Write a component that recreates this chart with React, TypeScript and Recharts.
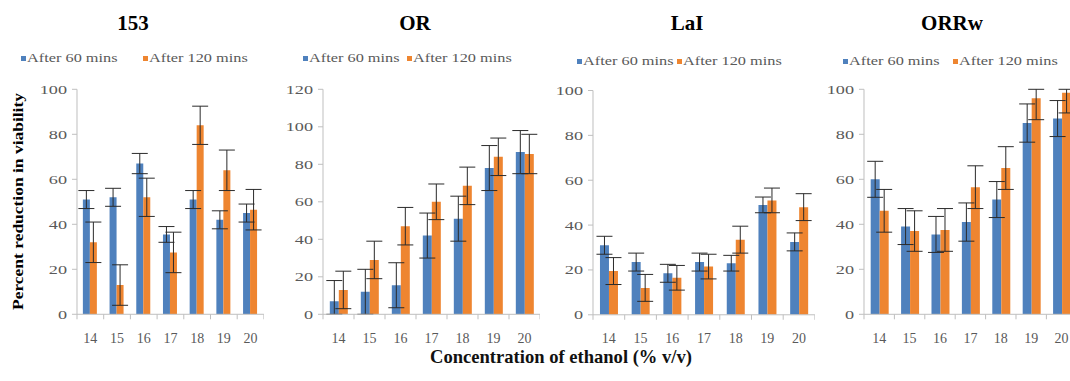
import React from 'react';
import { BarChart, Bar, XAxis, YAxis, ErrorBar } from 'recharts';

// ---------- data ----------
const categories = ['14', '15', '16', '17', '18', '19', '20'];
const seriesNames = ['After 60 mins', 'After 120 mins'];
const seriesColors = ['#4F81BD', '#EE8530'];
const panelTitles = ['153', 'OR', 'LaI', 'ORRw'];
const yAxisTitle = 'Percent reduction in viability';
const xAxisTitle = 'Concentration of ethanol (% v/v)';

const ticks100 = [0, 20, 40, 60, 80, 100];
const ticks120 = [0, 20, 40, 60, 80, 100, 120];

const s153_60 = [51, 52, 67, 35.5, 51, 42, 45];
const s153_60err = [4, 4, 4.5, 3.5, 4, 4, 4];
const s153_120 = [32, 13, 52, 27.5, 84, 64, 46.5];
const s153_120err = [9, 9, 8.5, 9, 8.5, 9, 9];

const sOR_60 = [7, 12, 15.5, 42, 51, 78, 86.5];
const sOR_60err = [11, 12, 12, 12, 12, 12, 11.5];
const sOR_120 = [13, 29, 47, 60, 68.5, 84, 85.5];
const sOR_120err = [10, 10, 10, 9.5, 10, 10, 10.5];

const sLaI_60 = [31, 23.5, 18.5, 23.5, 23, 49, 32.5];
const sLaI_60err = [4, 4, 4, 4, 3.5, 3.5, 4];
const sLaI_120 = [19.5, 12, 16.5, 21.5, 33.5, 51, 48];
const sLaI_120err = [6, 6, 5.5, 5.5, 6, 5.5, 6];

const sORRw_60 = [60, 39, 35.5, 41, 51, 85, 87];
const sORRw_60err = [8, 8, 8, 8.5, 8, 8.5, 8];
const sORRw_120 = [46, 37, 37.5, 56.5, 65, 96, 98.5];
const sORRw_120err = [9.5, 9, 9.5, 9.5, 9.5, 9.5, 9];

// ---------- helpers ----------
const FONT = '"Liberation Serif", "Times New Roman", serif';
const GRAY = '#595959';
const AXIS = '#BFBFBF';
const Y_AXIS_W = 50;
const H = 381;

// error whiskers are cut at the plot edges (as the original chart clips them)
function clipErr(v: number, e: number, max: number) {
  return [Math.min(e, v), Math.min(e, max - v)];
}

function buildRows(a: number[], ae: number[], b: number[], be: number[], max: number) {
  return categories.map((c, i) => ({
    cat: c,
    a: a[i],
    ae: clipErr(a[i], ae[i], max),
    b: b[i],
    be: clipErr(b[i], be[i], max),
  }));
}

const panels = [
  { title: panelTitles[0], rows: buildRows(s153_60, s153_60err, s153_120, s153_120err, 100), yMax: 100, yTicks: ticks100,
    axisX: 77, plotTop: 89.3, plotBottom: 314.3, band: 26.7, titleX: 133, leg1: 21, leg2: 143, legY: 62 },
  { title: panelTitles[1], rows: buildRows(sOR_60, sOR_60err, sOR_120, sOR_120err, 120), yMax: 120, yTicks: ticks120,
    axisX: 323, plotTop: 89.3, plotBottom: 314.3, band: 31, titleX: 415, leg1: 303, leg2: 407, legY: 62 },
  { title: panelTitles[2], rows: buildRows(sLaI_60, sLaI_60err, sLaI_120, sLaI_120err, 100), yMax: 100, yTicks: ticks100,
    axisX: 593, plotTop: 90.5, plotBottom: 314.8, band: 31.7, titleX: 687, leg1: 577, leg2: 677, legY: 65 },
  { title: panelTitles[3], rows: buildRows(sORRw_60, sORRw_60err, sORRw_120, sORRw_120err, 100), yMax: 100, yTicks: ticks100,
    axisX: 864, plotTop: 89.3, plotBottom: 314.3, band: 30.4, titleX: 952, leg1: 843, leg2: 953, legY: 65 },
];

const YTick = (props: any) => {
  const { x, y, payload } = props;
  return (
    <g transform={`translate(${x},${y})`}>
      <text x={0} y={0} dy="0.35em" textAnchor="end" fontSize={13} fill={GRAY} fontFamily={FONT}
        transform="scale(1.4,1)">{payload.value}</text>
    </g>
  );
};

const makeXTick = (band: number) => (props: any) => {
  const { x, y, payload, index } = props;
  return (
    <g>
      <line x1={x - band / 2} x2={x - band / 2} y1={y} y2={y + 5} stroke={AXIS} />
      {index === categories.length - 1 && (
        <line x1={x + band / 2} x2={x + band / 2} y1={y} y2={y + 5} stroke={AXIS} />
      )}
      <text x={x} y={y + 28.7} textAnchor="middle" fontSize={14} fill={GRAY} fontFamily={FONT}>
        {payload.value}
      </text>
    </g>
  );
};

function Panel({ p }: { p: (typeof panels)[number] }) {
  const plotW = p.band * categories.length;
  return (
    <div style={{ position: 'absolute', left: p.axisX - Y_AXIS_W, top: 0 }}>
      <BarChart
        width={Y_AXIS_W + plotW}
        height={H}
        data={p.rows}
        margin={{ top: p.plotTop, right: 0, bottom: 0, left: 0 }}
        barCategoryGap="22%"
        barGap={0}
      >
        <XAxis
          dataKey="cat"
          height={H - p.plotBottom}
          axisLine={{ stroke: AXIS }}
          tickLine={false}
          tickSize={0}
          tickMargin={0}
          interval={0}
          tick={makeXTick(p.band)}
        />
        <YAxis
          width={Y_AXIS_W}
          domain={[0, p.yMax]}
          ticks={p.yTicks}
          allowDataOverflow
          axisLine={{ stroke: AXIS }}
          tickLine={{ stroke: AXIS }}
          tickSize={5}
          tickMargin={5}
          tick={YTick}
        />
        <Bar dataKey="a" name={seriesNames[0]} fill={seriesColors[0]} isAnimationActive={false}>
          <ErrorBar dataKey="ae" width={8} stroke="#2a2a2a" strokeWidth={1} direction="y" />
        </Bar>
        <Bar dataKey="b" name={seriesNames[1]} fill={seriesColors[1]} isAnimationActive={false}>
          <ErrorBar dataKey="be" width={8} stroke="#2a2a2a" strokeWidth={1} direction="y" />
        </Bar>
      </BarChart>
    </div>
  );
}

function Overlay() {
  return (
    <svg width={1070} height={H} style={{ position: 'absolute', left: 0, top: 0, pointerEvents: 'none' }}>
      {panels.map((p, i) => (
        <g key={i}>
          <text x={p.titleX} y={30} textAnchor="middle" fontSize={21} fontWeight="bold" fill="#000" fontFamily={FONT}>
            {p.title}
          </text>
          {[p.leg1, p.leg2].map((lx, j) => (
            <g key={j}>
              <rect x={lx} y={p.legY - 6} width={5} height={5} fill={seriesColors[j]} />
              <g transform={`translate(${lx + 6},${p.legY})`}>
                <text x={0} y={0} fontSize={12} fill={GRAY} fontFamily={FONT} transform="scale(1.36,1)">
                  {seriesNames[j]}
                </text>
              </g>
            </g>
          ))}
        </g>
      ))}
      <text
        transform="translate(23,201.5) rotate(-90)"
        x={0}
        y={0}
        textAnchor="middle"
        fontSize={15}
        fontWeight="bold"
        fill="#000"
        fontFamily={FONT}
        textLength={217}
        lengthAdjust="spacingAndGlyphs"
      >
        {yAxisTitle}
      </text>
      <text
        x={561}
        y={363}
        textAnchor="middle"
        fontSize={19}
        fontWeight="bold"
        fill="#111"
        fontFamily={FONT}
        textLength={262}
        lengthAdjust="spacingAndGlyphs"
      >
        {xAxisTitle}
      </text>
    </svg>
  );
}

export default function App() {
  return (
    <div style={{ position: 'absolute', left: 0, top: 0, width: 1070, height: H, overflow: 'hidden', background: '#fff' }}>
      {panels.map((p, i) => (
        <Panel key={i} p={p} />
      ))}
      <Overlay />
    </div>
  );
}
